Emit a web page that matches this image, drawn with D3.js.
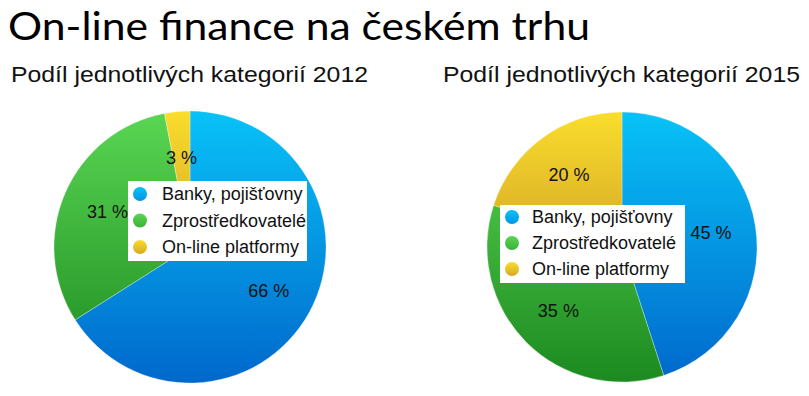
<!DOCTYPE html>
<html>
<head>
<meta charset="utf-8">
<script src="https://cdn.jsdelivr.net/npm/d3@7"></script>
<style>
  body { margin: 0; background: #fff; }
  svg text { font-family: "Liberation Sans", Arial, sans-serif; fill: #111; }
</style>
</head>
<body>
<div id="chart"></div>
<script>
// data
const categories = ["Banky, pojišťovny", "Zprostředkovatelé", "On-line platformy"];
const years = ["2012", "2015"];
const values2012 = [66, 31, 3];
const values2015 = [45, 35, 20];
const labels2012 = ["66 %", "31 %", "3 %"];
const labels2015 = ["45 %", "35 %", "20 %"];
const title = "On-line finance na českém trhu";
const subtitlePrefix = "Podíl jednotlivých kategorií ";

const width = 809, height = 396;
const colorTop = ["#08c2f7", "#5ad653", "#fadd2c"];
const colorBottom = ["#0068cc", "#1c8a20", "#b07420"];

const svg = d3.select("#chart").append("svg")
  .attr("width", width)
  .attr("height", height);

const defs = svg.append("defs");

// title
svg.append("text")
  .attr("x", 8)
  .attr("y", 40)
  .attr("textLength", 582)
  .attr("lengthAdjust", "spacingAndGlyphs")
  .style("font-family", "Lato, 'Open Sans', sans-serif")
  .style("font-size", "39px")
  .style("fill", "#000")
  .text(title);

const pies = [
  { year: years[0], values: values2012, labels: labels2012, cx: 190, cy: 247, r: 136,
    subX: 11, subW: 357, legend: { x: 128, y: 181, w: 179, h: 80, cx: 140, tx: 162, y0: 194, step: 26.5 } },
  { year: years[1], values: values2015, labels: labels2015, cx: 622, cy: 247, r: 135,
    subX: 443, subW: 357, legend: { x: 500, y: 205, w: 185, h: 78, cx: 512, tx: 532, y0: 217, step: 26 } }
];

pies.forEach((p, pi) => {
  // subtitle
  svg.append("text")
    .attr("x", p.subX)
    .attr("y", 82)
    .attr("textLength", p.subW)
    .attr("lengthAdjust", "spacingAndGlyphs")
    .style("font-size", "22px")
    .text(subtitlePrefix + p.year);

  // gradients spanning the whole pie vertically (group coordinates)
  categories.forEach((c, i) => {
    const g = defs.append("linearGradient")
      .attr("id", "g" + pi + "_" + i)
      .attr("gradientUnits", "userSpaceOnUse")
      .attr("x1", 0).attr("x2", 0)
      .attr("y1", -p.r).attr("y2", p.r);
    g.append("stop").attr("offset", "0%").attr("stop-color", colorTop[i]);
    g.append("stop").attr("offset", "100%").attr("stop-color", colorBottom[i]);
  });

  const pie = d3.pie().sort(null)(p.values);
  const arc = d3.arc().innerRadius(0).outerRadius(p.r);
  const labelArc = d3.arc().innerRadius(90).outerRadius(90);

  const gp = svg.append("g").attr("transform", "translate(" + p.cx + "," + p.cy + ")");

  gp.selectAll("path")
    .data(pie)
    .enter()
    .append("path")
    .attr("d", arc)
    .attr("fill", (d, i) => "url(#g" + pi + "_" + i + ")")
    .attr("stroke", "rgba(255,255,255,0.5)")
    .attr("stroke-width", 0.6);

  gp.selectAll(".lbl")
    .data(pie)
    .enter()
    .append("text")
    .attr("class", "lbl")
    .attr("x", d => labelArc.centroid(d)[0])
    .attr("y", d => labelArc.centroid(d)[1])
    .attr("text-anchor", "middle")
    .attr("dy", "0.35em")
    .style("font-size", "18px")
    .text((d, i) => p.labels[i]);

  // legend
  const L = p.legend;
  svg.append("rect")
    .attr("x", L.x).attr("y", L.y)
    .attr("width", L.w).attr("height", L.h)
    .attr("fill", "#fff");

  categories.forEach((c, i) => {
    const lg = defs.append("linearGradient")
      .attr("id", "lg" + pi + "_" + i)
      .attr("x1", 0).attr("x2", 0).attr("y1", 0).attr("y2", 1);
    lg.append("stop").attr("offset", "0%").attr("stop-color", colorTop[i]);
    lg.append("stop").attr("offset", "100%").attr("stop-color", d3.interpolateRgb(colorTop[i], colorBottom[i])(0.5));
  });

  const items = svg.selectAll(".leg" + pi)
    .data(categories)
    .enter()
    .append("g")
    .attr("class", "leg" + pi)
    .attr("transform", (d, i) => "translate(0," + (L.y0 + i * L.step) + ")");

  items.append("circle")
    .attr("cx", L.cx)
    .attr("cy", 0)
    .attr("r", 7)
    .attr("fill", (d, i) => "url(#lg" + pi + "_" + i + ")");

  items.append("text")
    .attr("x", L.tx)
    .attr("y", 6)
    .style("font-size", "18px")
    .text(d => d);
});
</script>
</body>
</html>
